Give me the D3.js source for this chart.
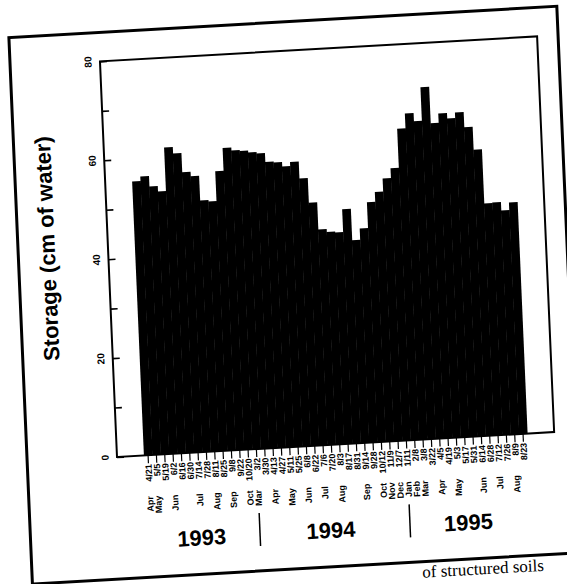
<!DOCTYPE html>
<html>
<head>
<meta charset="utf-8">
<script src="https://cdn.jsdelivr.net/npm/d3@7/dist/d3.min.js"></script>
<style>
  html, body { margin: 0; padding: 0; background: #fff; }
  svg { display: block; }
  text { font-family: "Liberation Sans", Arial, Helvetica, sans-serif; fill: #000; }
</style>
</head>
<body>
<svg id="chart" width="567" height="584"></svg>
<script>
// Sampling dates (month/day), one per bar
const dates = [
  "4/21","5/5","5/19","6/2","6/16","6/30","7/14","7/28","8/11","8/25","9/8","9/22","10/20",
  "3/2","3/30","4/13","4/27","5/11","5/25","6/8","6/22","7/6","7/20","8/3","8/17","8/31",
  "9/14","9/28","10/12","11/9","12/7",
  "1/11","2/8","3/8","3/22","4/5","4/19","5/3","5/17","5/31","6/14","6/28","7/12","7/26",
  "8/9","8/23"
];
// Profile water storage (cm of water)
const storage = [
  55.4, 56.3, 54.2, 53.1, 61.9, 60.6, 56.7, 55.8, 50.8, 50.5, 56.5, 61.1, 60.5,
  60.3, 59.9, 59.6, 57.8, 57.6, 56.7, 57.5, 54.1, 49.1, 43.6, 43.0, 42.8, 47.4,
  41.0, 43.3, 48.5, 50.5, 53.1,
  55.1, 63.0, 66.0, 64.3, 71.1, 63.7, 65.6, 64.5, 65.6, 62.5, 57.9, 46.9, 47.0,
  45.3, 46.8
];
const years = ["1993", "1994", "1995"];
const yearFirstIndex = [0, 13, 31];
const monthNames = ["Jan","Feb","Mar","Apr","May","Jun","Jul","Aug","Sep","Oct","Nov","Dec"];
const yMajorTicks = [0, 20, 40, 60, 80];
const yMinorTicks = [10, 30, 50, 70];
const yTitle = "Storage (cm of water)";
const caption = "of structured soils";

const W = 438, H = 396;
const svg = d3.select("#chart");
svg.append("rect").attr("width", 567).attr("height", 584).attr("fill", "#fff");

// The printed page sits slightly tilted on the scanner bed
const g = svg.append("g")
  .attr("transform", "matrix(0.998,-0.057,0.043,0.999,117,457)");

const x = d3.scaleBand()
  .domain(d3.range(storage.length))
  .range([0, W])
  .paddingInner(0)
  .paddingOuter(3.23);
const y = d3.scaleLinear().domain([0, 80]).range([0, -H]);

// Page border
g.append("rect")
  .attr("x", -90).attr("y", -425).attr("width", 549).attr("height", 547)
  .attr("fill", "none").attr("stroke", "#000").attr("stroke-width", 3);

// Bars
g.append("g").selectAll("rect")
  .data(storage)
  .join("rect")
  .attr("x", (d, i) => x(i))
  .attr("y", d => y(d))
  .attr("width", x.bandwidth() + 0.4)
  .attr("height", d => y(0) - y(d))
  .attr("fill", "#000");

// Plot frame
g.append("rect")
  .attr("x", 0).attr("y", -H).attr("width", W).attr("height", H)
  .attr("fill", "none").attr("stroke", "#000").attr("stroke-width", 2);

// Y axis: inward ticks, rotated labels
const yAxis = d3.axisRight(y).tickValues(yMajorTicks.concat(yMinorTicks))
  .tickSize(7).tickFormat("");
const ya = g.append("g").call(yAxis);
ya.select(".domain").remove();
ya.selectAll("line").attr("stroke", "#000").attr("stroke-width", 1.6);

g.append("g").selectAll("text")
  .data(yMajorTicks)
  .join("text")
  .attr("transform", d => `translate(-12,${y(d)}) rotate(-90)`)
  .attr("text-anchor", "middle")
  .attr("dy", "0.35em")
  .attr("font-size", 10)
  .attr("font-weight", "bold")
  .text(d => d);

g.append("text")
  .attr("transform", `translate(-61,${-212}) rotate(-90)`)
  .attr("text-anchor", "middle")
  .attr("dy", "0.35em")
  .attr("font-size", 22)
  .attr("font-weight", "bold")
  .text(yTitle);

// X axis: outward ticks, one per sampling date
const xAxis = d3.axisBottom(x).tickSize(8).tickFormat("");
const xa = g.append("g").call(xAxis);
xa.select(".domain").remove();
xa.selectAll("line").attr("stroke", "#000").attr("stroke-width", 1.2);

g.append("g").selectAll("text")
  .data(dates)
  .join("text")
  .attr("transform", (d, i) => `translate(${x(i) + x.bandwidth() / 2},9) rotate(-90)`)
  .attr("text-anchor", "end")
  .attr("dy", "0.35em")
  .attr("font-size", 9)
  .attr("font-weight", "bold")
  .text(d => d);

// Month names under the first sampling date of each month
const monthMarks = dates
  .map((d, i) => ({ i, m: +d.split("/")[0] }))
  .filter((d, k, arr) => k === 0 || arr[k - 1].m !== d.m);
g.append("g").selectAll("text")
  .data(monthMarks)
  .join("text")
  .attr("transform", d => `translate(${x(d.i) + x.bandwidth() / 2},41) rotate(-90)`)
  .attr("text-anchor", "end")
  .attr("dy", "0.35em")
  .attr("font-size", 9)
  .attr("font-weight", "bold")
  .text(d => monthNames[d.m - 1]);

// Year separators and year labels
const center = i => x(i) + x.bandwidth() / 2;
g.append("g").selectAll("line")
  .data(yearFirstIndex.slice(1))
  .join("line")
  .attr("x1", d => center(d)).attr("x2", d => center(d))
  .attr("y1", 64).attr("y2", 97)
  .attr("stroke", "#000").attr("stroke-width", 1.5);

const yearEnds = yearFirstIndex.slice(1).concat([storage.length]);
g.append("g").selectAll("text")
  .data(years)
  .join("text")
  .attr("x", (d, k) => (x(yearFirstIndex[k]) + x(yearEnds[k] - 1) + x.bandwidth()) / 2)
  .attr("y", 93)
  .attr("text-anchor", "middle")
  .attr("font-size", 22)
  .attr("font-weight", "bold")
  .text(d => d);

// Figure caption below the border
g.append("text")
  .attr("x", 422).attr("y", 138)
  .attr("text-anchor", "end")
  .attr("font-size", 17)
  .style("font-family", "'Liberation Serif', 'Times New Roman', serif")
  .text(caption);
</script>
</body>
</html>
